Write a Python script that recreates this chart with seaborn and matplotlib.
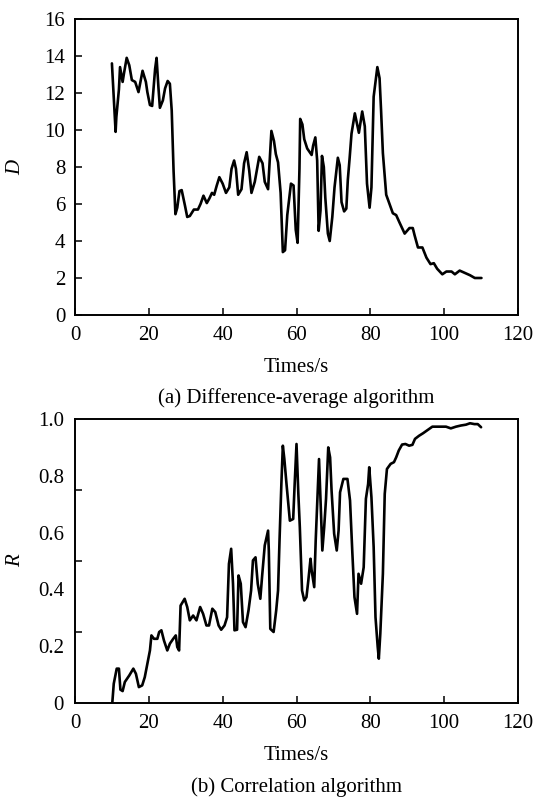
import matplotlib
matplotlib.use("Agg")
import matplotlib.pyplot as plt
import seaborn as sns
import pandas as pd
from matplotlib.ticker import FixedLocator

# ---------------- data ----------------
time_d = [10, 11, 11.2, 11.9, 12.2, 12.9, 13.3, 14.0, 14.7, 15.4,
          16.3, 17.2, 18.3, 19.2, 19.6, 20.3, 20.9, 21.2, 21.7, 22.1,
          22.6, 23.0, 23.8, 24.4, 25.1, 25.7, 26.2, 26.7, 27.2, 27.7,
          28.3, 28.9, 29.8, 30.4, 31.1, 32.2, 33.3, 34.0, 34.8, 35.7,
          36.4, 37.1, 37.7, 38.4, 39.1, 40.0, 40.9, 41.8, 42.4, 43.1,
          43.6, 44.2, 45.1, 45.8, 46.5, 47.2, 47.8, 48.7, 49.9, 50.8,
          51.4, 52.3, 52.8, 53.2, 53.9, 54.4, 55.0, 55.7, 56.3, 56.9,
          57.5, 58.5, 59.2, 59.8, 60.3, 60.8, 61.0, 61.6, 62.1, 62.9,
          64.1, 64.5, 65.1, 65.6, 66.0, 66.5, 66.9, 67.4, 67.8, 68.5,
          69.0, 69.7, 70.3, 71.2, 71.7, 72.2, 72.9, 73.5, 73.9, 74.4,
          74.9, 75.8, 76.9, 77.8, 78.5, 79.1, 79.8, 80.3, 80.9, 81.4,
          81.9, 82.5, 82.9, 83.4, 84.3, 85.2, 86.1, 87.0, 87.9, 89.3,
          90.6, 91.5, 92.0, 92.9, 94.1, 95.2, 96.3, 97.2, 98.1, 99.5,
          100.6, 102.0, 102.9, 104.2, 105.3, 107.0, 108.3, 110.1]
d_values = [13.6, 9.9, 10.7, 12.2, 13.4, 12.6, 13.1, 13.9, 13.5, 12.7,
            12.6, 12.05, 13.2, 12.6, 12.05, 11.35, 11.3, 12.05, 13.3, 13.9,
            12.3, 11.2, 11.6, 12.25, 12.65, 12.5, 11.05, 7.8, 5.45, 5.8,
            6.7, 6.75, 5.9, 5.3, 5.35, 5.7, 5.7, 6.0, 6.45, 6.05,
            6.3, 6.6, 6.5, 7.0, 7.45, 7.1, 6.6, 6.9, 7.9, 8.35,
            7.9, 6.5, 6.8, 8.2, 8.8, 7.8, 6.6, 7.2, 8.55, 8.2,
            7.2, 6.8, 8.5, 9.95, 9.4, 8.7, 8.25, 6.6, 3.4, 3.5,
            5.4, 7.1, 7.0, 4.6, 3.9, 7.9, 10.6, 10.3, 9.5, 9.0,
            8.65, 9.15, 9.6, 8.35, 4.55, 5.65, 8.6, 8.0, 6.35, 4.4,
            4.0, 5.3, 6.9, 8.5, 8.1, 6.1, 5.6, 5.75, 7.3, 8.5,
            9.8, 10.9, 9.85, 11.0, 10.2, 7.1, 5.8, 6.9, 11.8, 12.6,
            13.4, 12.8, 11.1, 8.75, 6.5, 6.0, 5.5, 5.4, 5.0, 4.4,
            4.7, 4.7, 4.3, 3.65, 3.65, 3.1, 2.75, 2.8, 2.5, 2.2,
            2.35, 2.35, 2.2, 2.4, 2.3, 2.15, 2.0, 2.0]

time_r = [10.1, 10.5, 11.3, 11.9, 12.3, 12.9, 13.5, 14.7, 15.8, 16.5,
          17.3, 18.2, 18.9, 19.5, 20.3, 20.7, 21.4, 22.3, 22.8, 23.4,
          24.1, 25.0, 25.7, 26.6, 27.3, 27.7, 28.2, 28.6, 29.7, 30.4,
          31.1, 32.0, 32.9, 33.9, 34.7, 35.6, 36.3, 37.2, 38.0, 38.9,
          39.6, 40.5, 41.2, 41.7, 42.3, 42.8, 43.2, 43.9, 44.3, 44.9,
          45.5, 46.2, 47.0, 47.7, 48.2, 48.9, 49.5, 50.2, 50.7, 51.4,
          52.3, 52.5, 52.9, 53.8, 54.5, 55.0, 55.4, 55.9, 56.3, 56.7,
          57.3, 58.2, 59.1, 59.5, 60.0, 60.5, 60.9, 61.5, 62.1, 62.7,
          63.2, 63.8, 64.1, 64.8, 65.2, 65.7, 66.1, 66.5, 67.0, 67.5,
          68.0, 68.6, 69.1, 69.5, 70.2, 70.9, 71.4, 71.8, 72.7, 73.8,
          74.5, 75.1, 75.7, 76.4, 76.8, 77.5, 78.2, 78.8, 79.4, 79.7,
          80.3, 80.9, 81.4, 82.0, 82.3, 82.7, 83.4, 83.9, 84.5, 85.5,
          86.4, 87.0, 87.7, 88.6, 89.5, 90.5, 91.4, 92.1, 93.2, 94.3,
          95.5, 96.8, 98.6, 100.5, 101.8, 103.2, 104.5, 105.9, 107.0, 108.2,
          109.1, 110.0]
r_values = [0.0, 0.068, 0.121, 0.121, 0.047, 0.042, 0.074, 0.097, 0.121, 0.103,
            0.056, 0.062, 0.091, 0.132, 0.185, 0.238, 0.226, 0.226, 0.25, 0.256,
            0.22, 0.185, 0.209, 0.226, 0.238, 0.197, 0.185, 0.343, 0.367, 0.338,
            0.291, 0.308, 0.291, 0.338, 0.314, 0.273, 0.273, 0.332, 0.32, 0.273,
            0.258, 0.273, 0.302, 0.49, 0.543, 0.42, 0.256, 0.258, 0.449, 0.42,
            0.285, 0.267, 0.326, 0.396, 0.502, 0.513, 0.42, 0.367, 0.449, 0.555,
            0.607, 0.537, 0.261, 0.25, 0.326, 0.396, 0.572, 0.771, 0.906, 0.86,
            0.77, 0.642, 0.648, 0.77, 0.912, 0.736, 0.619, 0.396, 0.361, 0.373,
            0.431, 0.508, 0.467, 0.408, 0.572, 0.736, 0.859, 0.713, 0.537, 0.619,
            0.719, 0.9, 0.865, 0.748, 0.596, 0.537, 0.607, 0.742, 0.789, 0.789,
            0.713, 0.537, 0.373, 0.314, 0.455, 0.42, 0.478, 0.719, 0.771, 0.83,
            0.724, 0.549, 0.302, 0.197, 0.156, 0.244, 0.455, 0.736, 0.824, 0.842,
            0.848, 0.865, 0.889, 0.91, 0.912, 0.906, 0.909, 0.93, 0.941, 0.95,
            0.961, 0.973, 0.973, 0.973, 0.967, 0.973, 0.977, 0.98, 0.985, 0.982,
            0.982, 0.971]

x_ticks = [0, 20, 40, 60, 80, 100, 120]
d_ticks = [0, 2, 4, 6, 8, 10, 12, 14, 16]
r_ticks = [0, 0.2, 0.4, 0.6, 0.8, 1.0]
r_tick_labels = ["0", "0.2", "0.4", "0.6", "0.8", "1.0"]
r_tick_marks = [0.25, 0.5, 0.75]
captions = ["(a) Difference-average algorithm", "(b) Correlation algorithm"]

# ---------------- style ----------------
sns.set_theme(style="ticks")
plt.rcParams["font.family"] = ["Liberation Serif", "DejaVu Serif"]
plt.rcParams["text.color"] = "black"
plt.rcParams["axes.labelcolor"] = "black"
plt.rcParams["xtick.color"] = "black"
plt.rcParams["ytick.color"] = "black"
plt.rcParams["xtick.labelcolor"] = "black"
plt.rcParams["ytick.labelcolor"] = "black"
FS = 15

df_d = pd.DataFrame({"t": time_d, "D": d_values})
df_r = pd.DataFrame({"t": time_r, "R": r_values})

W, H = 536, 797
fig = plt.figure(figsize=(W / 100, H / 100), dpi=100)
fig.patch.set_facecolor("white")


def box(l, t, r, b):
    return [l / W, 1 - b / H, (r - l) / W, (b - t) / H]


ax1 = fig.add_axes(box(75, 19, 518, 315))
ax2 = fig.add_axes(box(75, 419, 518, 703))

sns.lineplot(data=df_d, x="t", y="D", ax=ax1, color="black", linewidth=1.9,
             estimator=None, sort=False)
sns.lineplot(data=df_r, x="t", y="R", ax=ax2, color="black", linewidth=1.9,
             estimator=None, sort=False)

for ax in (ax1, ax2):
    ax.set_xlim(0, 120)
    ax.set_xticks(x_ticks)
    ax.set_xticklabels([str(v) for v in x_ticks], fontsize=FS, color="black")
    ax.set_xlabel("Times/s", fontsize=FS, labelpad=9, color="black")
    for s in ax.spines.values():
        s.set_visible(True)
        s.set_linewidth(1.4)
        s.set_color("black")
    ax.tick_params(axis="x", direction="in", length=5, width=1.1,
                   pad=8, colors="black", top=False)
    ax.set_facecolor("white")

ax1.set_ylim(0, 16)
ax1.set_yticks(d_ticks)
ax1.set_yticklabels([str(v) for v in d_ticks], fontsize=FS, color="black")
ax1.tick_params(axis="y", direction="in", length=5, width=1.1, pad=7,
                right=False, colors="black")
ax1.set_ylabel("D", fontsize=FS, fontstyle="italic", labelpad=14, color="black")

ax2.set_ylim(0, 1.0)
ax2.set_yticks(r_ticks)
ax2.set_yticklabels(r_tick_labels, fontsize=FS, color="black")
ax2.yaxis.set_minor_locator(FixedLocator(r_tick_marks))
ax2.tick_params(axis="y", which="major", direction="in", length=0, pad=8,
                right=False, colors="black")
ax2.tick_params(axis="y", which="minor", direction="in", length=5, width=1.1,
                right=False, colors="black")
ax2.set_ylabel("R", fontsize=FS, fontstyle="italic", labelpad=9, color="black")

cx = (75 + 518) / 2 / W
fig.text(cx, 1 - 398 / H, captions[0], ha="center", va="center", fontsize=FS,
         color="black")
fig.text(cx, 1 - 787 / H, captions[1], ha="center", va="center", fontsize=FS,
         color="black")

fig.savefig("out.png", dpi=100, facecolor="white")
